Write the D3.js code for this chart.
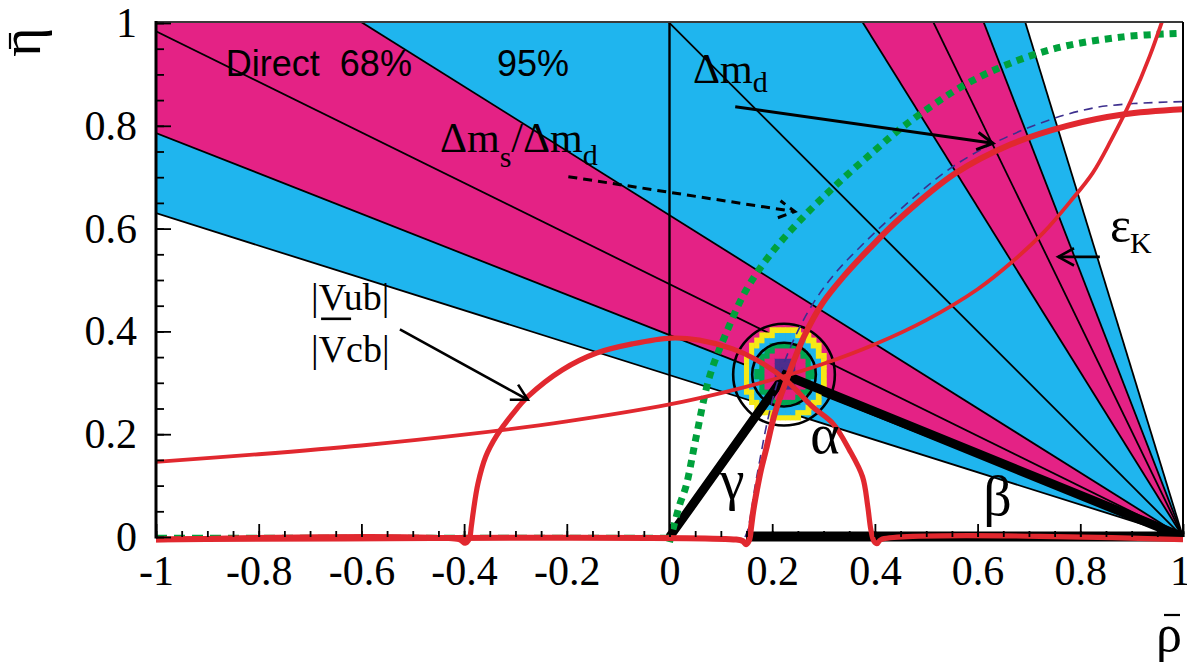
<!DOCTYPE html>
<html><head><meta charset="utf-8">
<script src="https://cdn.jsdelivr.net/npm/d3@7"></script>
<style>body{margin:0;background:#fff} svg{display:block}</style>
</head><body>
<svg id="c" width="1187" height="663"></svg>
<script>
// ---------------- data ----------------
const xTicks = [-1,-0.8,-0.6,-0.4,-0.2,0,0.2,0.4,0.6,0.8,1];
const xTickLabels = ["-1","-0.8","-0.6","-0.4","-0.2","0","0.2","0.4","0.6","0.8","1"];
const yTicks = [0,0.2,0.4,0.6,0.8,1];
const yTickLabels = ["0","0.2","0.4","0.6","0.8","1"];

// direct sin2beta: slopes tan(beta) of rays from (1,0)
const band95 = [0.315, 3.26];
const band68 = [[0.393, 0.626], [1.605, 2.58]];
const betaRays = [0.315, 0.393, 0.492, 0.626, 1.0, 1.605, 2.06, 2.58, 3.26];

// Delta m_d contour (red, thick)
const dmdCurve = [[-1,-0.005],[0.13,-0.005],[0.143,-0.008],[0.149,-0.014],[0.155,-0.006],[0.159,0.02],[0.163,0.05],
  [0.170,0.09],[0.178,0.13],[0.188,0.17],[0.205,0.24],[0.23,0.311],[0.262,0.39],[0.298,0.455],[0.34,0.508],
  [0.39,0.562],[0.45,0.621],[0.556,0.707],[0.665,0.764],[0.774,0.80],[0.883,0.822],[1.0,0.832]];
// |Vub|/|Vcb| contour (red)
const vubCurve = [[-1,-0.005],[-0.41,-0.005],[-0.398,-0.012],[-0.39,-0.004],[-0.386,0.02],[-0.382,0.05],[-0.373,0.104],
  [-0.358,0.156],[-0.336,0.198],[-0.305,0.24],[-0.276,0.273],[-0.209,0.325],[-0.142,0.358],[-0.071,0.376],
  [0.003,0.387],[0.058,0.383],[0.123,0.366],[0.169,0.345],[0.227,0.305],[0.279,0.253],[0.318,0.221],[0.35,0.17],
  [0.376,0.117],[0.386,0.06],[0.392,0.015],[0.398,-0.008],[0.404,-0.013],[0.412,-0.005],[1,-0.005]];
// epsilon_K contour (red, thin)
const ekCurve = [[-1,0.146],[-0.8,0.161],[-0.6,0.178],[-0.4,0.199],[-0.2,0.225],[0,0.258],[0.1,0.28],[0.2,0.306],
  [0.3,0.337],[0.4,0.375],[0.5,0.422],[0.6,0.482],[0.668,0.536],[0.73,0.594],[0.78,0.652],[0.824,0.708],
  [0.86,0.772],[0.9,0.852],[0.935,0.935],[0.965,1.02]];
// Delta m_s / Delta m_d limit (green dotted)
const dmsCurve = [[0.0,-0.01],[0.008,0.02],[0.0195,0.062],[0.0325,0.1],[0.052,0.195],[0.078,0.312],[0.11,0.396],
  [0.149,0.48],[0.195,0.548],[0.26,0.622],[0.33,0.69],[0.40,0.752],[0.461,0.803],[0.592,0.889],[0.738,0.947],
  [0.883,0.973],[1.0,0.98]];
const dmsBottom = [[-1,0.002],[0,0.002]];
// second Delta m_d bound (purple dashed)
const dmdDashed = [[0.147,0],[0.152,0.012],[0.159,0.049],[0.167,0.101],[0.176,0.15],[0.19,0.222],[0.21,0.30],
  [0.238,0.375],[0.275,0.447],[0.32,0.51],[0.375,0.568],[0.45,0.638],[0.563,0.728],[0.701,0.797],[0.833,0.836],[1.0,0.847]];

// unitarity triangle
const apex = [0.225, 0.315];
const triBase = [0.149, 1];

// fit result: confidence circles and 2D probability cells
const fitCenter = [0.223, 0.316];
const fitRadii = [0.062, 0.099];
const blobCenter = [0.225, 0.318];
const blobLevels = [
  {color:"#F5E916", rx:0.083, ry:0.092},
  {color:"#1FB5EC", rx:0.069, ry:0.078},
  {color:"#00A651", rx:0.056, ry:0.064},
  {color:"#E4217F", rx:0.042, ry:0.051},
  {color:"#4B2E8D", rx:0.025, ry:0.033}
];
const blobCell = 0.01;

// ---------------- setup ----------------
const svg = d3.select("#c");
const x = d3.scaleLinear().domain([-1,1]).range([156,1183]);
const y = d3.scaleLinear().domain([0,1]).range([537,23]);
const BLUE="#1FB5EE", MAG="#E42285", RED="#E1282F", GREEN="#00A13C", PURP="#3D2F8E";
const SERIF="'Liberation Serif','Times New Roman',serif", SANS="'Liberation Sans',Arial,sans-serif";

const defs = svg.append("defs");
defs.append("clipPath").attr("id","clipP").append("rect")
  .attr("x",x(-1)).attr("y",y(1)).attr("width",x(1)-x(-1)).attr("height",y(0)-y(1));
defs.append("clipPath").attr("id","clipC").append("rect")
  .attr("x",x(-1)).attr("y",y(1)).attr("width",x(1)-x(-1)+3).attr("height",y(0)-y(1)+14);

const gP = svg.append("g").attr("clip-path","url(#clipP)");
const wedge = (k1,k2) => [[1,0],[-1,2*k1],[-1,2*k2]].map(p=>[x(p[0]),y(p[1])]).join("L");
gP.append("path").attr("d","M"+wedge(band95[0],band95[1])+"Z").attr("fill",BLUE);
band68.forEach(b=>gP.append("path").attr("d","M"+wedge(b[0],b[1])+"Z").attr("fill",MAG));
gP.selectAll("line.ray").data(betaRays).join("line").attr("class","ray")
  .attr("x1",x(1)).attr("y1",y(0)).attr("x2",x(-1)).attr("y2",k=>y(2*k))
  .attr("stroke","#000").attr("stroke-width",1.8);
// rho = 0 line
gP.append("line").attr("x1",x(0)).attr("x2",x(0)).attr("y1",y(0)).attr("y2",y(1))
  .attr("stroke","#000").attr("stroke-width",2.4);

// probability cells
const cells=[];
for(let i=-10;i<10;i++) for(let j=-11;j<11;j++){
  const cx=blobCenter[0]+(i+0.5)*blobCell, cy=blobCenter[1]+(j+0.5)*blobCell;
  let col=null;
  blobLevels.forEach(L=>{const d=((cx-blobCenter[0])/L.rx)**2+((cy-blobCenter[1])/L.ry)**2; if(d<=1) col=L.color;});
  if(col) cells.push({cx,cy,col});
}
gP.selectAll("rect.cell").data(cells).join("rect").attr("class","cell")
  .attr("x",d=>x(d.cx-blobCell/2)).attr("y",d=>y(d.cy+blobCell/2))
  .attr("width",x(blobCell)-x(0)+0.6).attr("height",y(0)-y(blobCell)+0.6).attr("fill",d=>d.col);
gP.selectAll("ellipse.fit").data(fitRadii).join("ellipse").attr("class","fit")
  .attr("cx",x(fitCenter[0])).attr("cy",y(fitCenter[1]))
  .attr("rx",r=>x(r)-x(0)).attr("ry",r=>y(0)-y(r))
  .attr("fill","none").attr("stroke","#000").attr("stroke-width",2.6);

// triangle
const gC = svg.append("g").attr("clip-path","url(#clipC)");
gC.append("path").attr("d",d3.line().x(d=>x(d[0])).y(d=>y(d[1]))([[0,0],apex,[1,0]]))
  .attr("fill","none").attr("stroke","#000").attr("stroke-width",9).attr("stroke-linejoin","miter");
gC.append("line").attr("x1",x(triBase[0])).attr("x2",x(triBase[1])).attr("y1",y(0)-0.5).attr("y2",y(0)-0.5)
  .attr("stroke","#000").attr("stroke-width",10);

const line = d3.line().x(d=>x(d[0])).y(d=>y(d[1])).curve(d3.curveCatmullRom.alpha(0.5));
gC.append("path").attr("d",line(dmsCurve)).attr("fill","none").attr("stroke",GREEN)
  .attr("stroke-width",7).attr("stroke-dasharray","7 6");
gC.append("path").attr("d",d3.line().x(d=>x(d[0])).y(d=>y(d[1]))(dmsBottom)).attr("fill","none").attr("stroke",GREEN)
  .attr("stroke-width",2.5).attr("stroke-dasharray","11 7");
gC.append("path").attr("d",line(dmdDashed)).attr("fill","none").attr("stroke",PURP)
  .attr("stroke-width",1.6).attr("stroke-dasharray","9 6");
gC.append("path").attr("d",line(vubCurve)).attr("fill","none").attr("stroke",RED).attr("stroke-width",5.2).attr("stroke-linejoin","round");
gC.append("path").attr("d",line(ekCurve)).attr("fill","none").attr("stroke",RED).attr("stroke-width",3.8);
gC.append("path").attr("d",line(dmdCurve)).attr("fill","none").attr("stroke",RED).attr("stroke-width",6).attr("stroke-linejoin","round");

// ---------------- axes & frame ----------------
svg.append("line").attr("x1",x(-1)).attr("x2",x(1)).attr("y1",y(1)-1).attr("y2",y(1)-1).attr("stroke","#3a3a3a").attr("stroke-width",2.2);
svg.append("line").attr("x1",x(1)).attr("x2",x(1)).attr("y1",y(1)-1).attr("y2",y(0)).attr("stroke","#000").attr("stroke-width",2);

const xMinor = svg.append("g").attr("transform",`translate(0,${y(0)})`)
  .call(d3.axisBottom(x).ticks(40).tickSize(-6).tickFormat(""));
const xMajor = svg.append("g").attr("transform",`translate(0,${y(0)})`)
  .call(d3.axisBottom(x).tickValues(xTicks).tickSize(-13).tickPadding(18).tickFormat((d,i)=>xTickLabels[i]));
const yMinor = svg.append("g").attr("transform",`translate(${x(-1)},0)`)
  .call(d3.axisLeft(y).ticks(20).tickSize(-8).tickFormat(""));
const yMajor = svg.append("g").attr("transform",`translate(${x(-1)},0)`)
  .call(d3.axisLeft(y).tickValues(yTicks).tickSize(-15).tickPadding(19).tickFormat((d,i)=>yTickLabels[i]));
[xMinor,xMajor,yMinor,yMajor].forEach(g=>{
  g.select(".domain").remove();
  g.selectAll(".tick line").attr("stroke","#000").attr("stroke-width",1.8);
  g.selectAll("text").attr("font-family",SERIF).attr("font-size",42).attr("fill","#000");
});
xMajor.selectAll(".tick:last-of-type text").attr("dx",-3);
svg.append("line").attr("x1",x(-1)).attr("x2",x(-1)).attr("y1",y(0)+1.5).attr("y2",y(1)-2).attr("stroke","#000").attr("stroke-width",3);

// axis titles
svg.append("text").attr("transform","translate(40,42) rotate(-90)").attr("text-anchor","middle")
  .attr("font-family",SERIF).attr("font-size",56).text("η");
svg.append("line").attr("x1",10).attr("x2",10).attr("y1",33).attr("y2",49).attr("stroke","#000").attr("stroke-width",2.2);
svg.append("text").attr("x",1169).attr("y",651).attr("text-anchor","middle")
  .attr("font-family",SERIF).attr("font-size",52).text("ρ");
svg.append("line").attr("x1",1164).attr("x2",1180).attr("y1",615).attr("y2",615).attr("stroke","#000").attr("stroke-width",2.2);

// ---------------- annotations ----------------
const txt = (rx,ry,str,size,fam) => svg.append("text").attr("x",x(rx)).attr("y",y(ry))
  .attr("font-family",fam||SERIF).attr("font-size",size).attr("fill","#000").style("white-space","pre").text(str);
txt(-0.864,0.897,"Direct  68%",36,SANS);
txt(-0.336,0.897,"95%",36,SANS);

const t1 = svg.append("text").attr("x",x(0.046)).attr("y",y(0.883)).attr("font-family",SERIF).attr("font-size",42);
t1.append("tspan").text("Δm"); t1.append("tspan").attr("font-size",30).attr("dy",9).text("d");

const t2 = svg.append("text").attr("x",x(-0.447)).attr("y",y(0.749)).attr("font-family",SERIF).attr("font-size",42);
t2.append("tspan").text("Δm"); t2.append("tspan").attr("font-size",30).attr("dy",15).text("s");
t2.append("tspan").attr("dy",-15).text("/Δm"); t2.append("tspan").attr("font-size",30).attr("dy",13).text("d");

txt(-0.698,0.442,"|Vub|",38);
txt(-0.698,0.340,"|Vcb|",38);
svg.append("line").attr("x1",x(-0.698)+10).attr("x2",x(-0.698)+40).attr("y1",y(0.442)+9).attr("y2",y(0.442)+9)
  .attr("stroke","#000").attr("stroke-width",2.6);

const t3 = svg.append("text").attr("x",x(0.858)).attr("y",y(0.574)).attr("font-family",SERIF).attr("font-size",50);
t3.append("tspan").text("ε"); t3.append("tspan").attr("font-size",30).attr("dx",-1).attr("dy",11).text("K");

txt(0.098,0.074,"γ",56);
txt(0.274,0.163,"α",56);
txt(0.611,0.043,"β",56);

// arrows
const arrows = [
  {from:[0.128,0.837], to:[0.630,0.766], w:3, dash:null},
  {from:[-0.197,0.701], to:[0.244,0.633], w:3, dash:"9 6"},
  {from:[-0.525,0.404], to:[-0.276,0.267], w:2.6, dash:null},
  {from:[0.838,0.545], to:[0.757,0.545], w:2.6, dash:null}
];
arrows.forEach(a=>{
  const x1=x(a.from[0]),y1=y(a.from[1]),x2=x(a.to[0]),y2=y(a.to[1]);
  const ang=Math.atan2(y2-y1,x2-x1), L=18, h=0.5;
  const p1=[x2-L*Math.cos(ang-h), y2-L*Math.sin(ang-h)], p2=[x2-L*Math.cos(ang+h), y2-L*Math.sin(ang+h)];
  const g=svg.append("g").attr("stroke","#000").attr("stroke-width",a.w).attr("fill","none");
  if(a.dash) g.attr("stroke-dasharray",a.dash);
  g.append("line").attr("x1",x1).attr("y1",y1).attr("x2",x2).attr("y2",y2);
  g.append("path").attr("d",`M${p1}L${x2},${y2}L${p2}`).attr("stroke-dasharray",null);
});
</script>
</body></html>
